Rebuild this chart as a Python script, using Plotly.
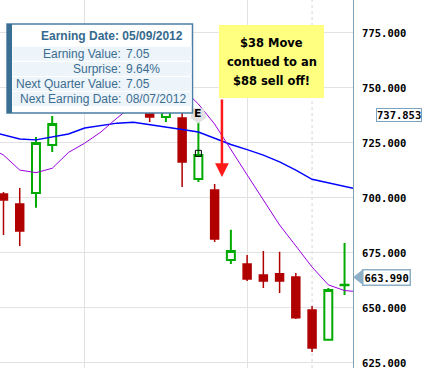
import plotly.graph_objects as go

# ---------------- data ----------------
idx = list(range(22))
opens  = [701.8, 697.3, 702.3, 724.1, 742.0, 750.0, 759.0, 765.0, 756.0, 742.0, 736.8,
          736.4, 708.6, 703.6, 671.8, 670.0, 665.0, 665.5, 664.1, 649.1, 635.5, 660.3]
highs  = [702.7, 704.5, 727.7, 737.3, 752.0, 762.0, 770.0, 772.0, 764.0, 748.0, 745.0,
          739.1, 734.5, 706.4, 685.5, 674.1, 675.9, 675.5, 665.9, 650.9, 659.1, 679.5]
lows   = [683.2, 678.2, 695.5, 720.9, 740.5, 747.0, 754.0, 752.0, 745.0, 734.5, 734.5,
          705.0, 707.3, 680.0, 670.0, 662.3, 659.1, 656.8, 645.0, 630.0, 635.5, 655.9]
closes = [699.1, 685.0, 725.0, 733.6, 750.0, 759.0, 765.0, 756.0, 748.0, 736.8, 741.0,
          716.4, 719.5, 681.4, 675.9, 663.2, 662.3, 662.3, 645.5, 631.8, 658.2, 660.6]

ma_x = list(range(-1, 23))
ma_slow = [730.5, 728.6, 726.8, 726.4, 727.7, 729.1, 731.8, 733.0, 734.0, 734.4, 733.4, 732.3,
           731.1, 730.0, 727.3, 724.3, 722.0, 719.5, 716.4, 712.7, 708.5, 707.0, 705.5, 703.6]
ma_fast = [723.5, 719.5, 712.7, 711.5, 713.5, 720.7, 724.9, 730.0, 736.4, 742.3, 747.0, 750.0,
           750.0, 742.7, 733.6, 721.8, 710.5, 699.1, 687.7, 678.2, 668.6, 660.5, 657.9, 657.3]

y_ticks = [625, 650, 675, 700, 725, 750, 775]
x_grid = [5, 15]
x_dashed_grid = [19]

earning_idx = 12
earning_flag_value = 737.7
earning_box_value = 720.3

tip_title = "Earning Date: 05/09/2012"
tip_labels = ["Earning Value:", "Surprise:", "Next Quarter Value:", "Next Earning Date:"]
tip_values = ["7.05", "9.64%", "7.05", "08/07/2012"]

note_lines = ["$38 Move", "contued to an", "$88 sell off!"]
arrow_idx = 13.45
arrow_tip_value = 709.5

label_upper = 737.853
label_last = 663.990

# ---------------- layout helpers (pixel -> paper) ----------------
W, H = 425, 368
PW = 353
def px(x):
    return x / PW
def py(y):
    return 1 - y / H

fig = go.Figure()

fig.add_trace(go.Candlestick(
    x=idx, open=opens, high=highs, low=lows, close=closes,
    increasing=dict(line=dict(color="#00aa00", width=2), fillcolor="white"),
    decreasing=dict(line=dict(color="#b00000", width=1.5), fillcolor="#b00000"),
    whiskerwidth=0, hoverinfo="skip"))

fig.add_trace(go.Scatter(x=ma_x, y=ma_slow, mode="lines",
                         line=dict(color="#0000ff", width=1.4), hoverinfo="skip"))
fig.add_trace(go.Scatter(x=ma_x, y=ma_fast, mode="lines",
                         line=dict(color="#9900dd", width=1), hoverinfo="skip"))

# earnings flag
fig.add_trace(go.Scatter(x=[earning_idx], y=[earning_flag_value], mode="markers",
                         marker=dict(symbol="pentagon", angle=180, size=17, color="#e2e2e2",
                                     line=dict(width=0)), hoverinfo="skip"))
fig.add_trace(go.Scatter(x=[earning_idx], y=[earning_box_value], mode="markers",
                         marker=dict(symbol="square-open", size=6, color="black",
                                     line=dict(width=1, color="black")), hoverinfo="skip"))

shapes = []
annotations = []

for gx in x_dashed_grid:
    shapes.append(dict(type="line", xref="x", yref="paper", x0=gx, x1=gx, y0=0, y1=1,
                       line=dict(color="#d6d6d6", width=1, dash="dot"), layer="below"))

# tooltip box
shapes.append(dict(type="rect", xref="paper", yref="paper", x0=px(7), x1=px(192.5),
                   y0=py(113), y1=py(24), fillcolor="white",
                   line=dict(color="#4a7fa5", width=1.5), layer="above"))
shapes.append(dict(type="rect", xref="paper", yref="paper", x0=px(7), x1=px(12),
                   y0=py(113), y1=py(24), fillcolor="#3a6f94", line=dict(width=0), layer="above"))
row_tops = [46.7, 62, 77, 92]
for t in row_tops:
    shapes.append(dict(type="rect", xref="paper", yref="paper", x0=px(12.5), x1=px(191.7),
                       y0=py(t + 14), y1=py(t), fillcolor="#edf4fa", line=dict(width=0),
                       layer="above"))

tip_color = "#3b6d90"
annotations.append(dict(xref="paper", yref="paper", x=px(184.5), y=py(36), xanchor="right",
                        yanchor="middle", text="<b>" + tip_title + "</b>", showarrow=False,
                        borderpad=0,
                        font=dict(family="Liberation Sans, Arial", size=12, color="#356a8e")))
row_centers = [54.3, 69, 83.8, 98.8]
for lab, val, cy in zip(tip_labels, tip_values, row_centers):
    annotations.append(dict(xref="paper", yref="paper", x=px(122), y=py(cy), xanchor="right",
                            yanchor="middle", text=lab, showarrow=False, borderpad=0,
                            font=dict(family="Liberation Sans, Arial", size=12, color=tip_color)))
    annotations.append(dict(xref="paper", yref="paper", x=px(124.5), y=py(cy), xanchor="left",
                            yanchor="middle", text=val, showarrow=False, borderpad=0,
                            font=dict(family="Liberation Sans, Arial", size=12, color=tip_color)))

# yellow note
shapes.append(dict(type="rect", xref="paper", yref="paper", x0=px(219), x1=px(324),
                   y0=py(98), y1=py(25), fillcolor="#ffff80", line=dict(width=0), layer="above"))
for line, cy in zip(note_lines, [43.5, 62, 80.5]):
    annotations.append(dict(xref="paper", yref="paper", x=px(271.5), y=py(cy), xanchor="center",
                            yanchor="middle", text="<b>" + line + "</b>", showarrow=False,
                            font=dict(family="DejaVu Sans", size=11.5, color="black")))

# red arrow
annotations.append(dict(x=arrow_idx, y=arrow_tip_value, xref="x", yref="y", text="",
                        showarrow=True, ax=0, ay=-79, arrowhead=2, arrowsize=1.1,
                        arrowwidth=2.5, arrowcolor="#ff1a1a", standoff=0))

# E flag letter
annotations.append(dict(x=earning_idx, y=earning_flag_value, xref="x", yref="y",
                        text="<b>E</b>", showarrow=False, yshift=2,
                        font=dict(family="DejaVu Sans", size=11, color="black")))

mono = dict(family="DejaVu Sans Mono", size=10.5, color="black", weight="bold")
# right side price labels
annotations.append(dict(xref="paper", yref="y", x=px(376), y=label_upper, xanchor="left",
                        yanchor="middle", text=f"{label_upper:.3f}", showarrow=False,
                        bgcolor="white", bordercolor="#7ba3c0", borderwidth=1, borderpad=0,
                        font=mono))
annotations.append(dict(xref="paper", yref="y", x=px(362), y=label_last, xanchor="left",
                        yanchor="middle", text=f"{label_last:.3f}", showarrow=False,
                        bgcolor="white", bordercolor="#8cafc7", borderwidth=1.5, borderpad=1,
                        font=mono))
shapes.append(dict(type="path", xref="paper", yref="y",
                   path=f"M {px(353)},{label_last} L {px(363)},{label_last + 3.6} "
                        f"L {px(363)},{label_last - 3.6} Z",
                   fillcolor="#8cafc7", line=dict(width=0), layer="above"))

fig.update_layout(
    template="none",
    width=W, height=H,
    margin=dict(l=0, r=W - PW, t=0, b=0),
    paper_bgcolor="white", plot_bgcolor="white",
    showlegend=False,
    shapes=shapes, annotations=annotations,
    xaxis=dict(range=[-0.215, 21.52], tickvals=x_grid, showticklabels=False, showgrid=True,
               gridcolor="#e2e2e2", gridwidth=1, zeroline=False, showline=False, ticks="",
               rangeslider=dict(visible=False), automargin=False, fixedrange=True),
    yaxis=dict(range=[622.7, 790.0], side="right", tickvals=y_ticks, tickformat=".3f",
               showgrid=True, gridcolor="#e2e2e2", gridwidth=1, zeroline=False,
               showline=True, linecolor="#7f9fb4", linewidth=1, ticks="",
               ticklabelstandoff=6, ticklabeloverflow="allow", tickfont=mono,
               automargin=False, fixedrange=True),
)

fig.write_html("out.html", config={"displayModeBar": False},
               post_script="document.body.style.margin='0';document.body.style.overflow='hidden';")
